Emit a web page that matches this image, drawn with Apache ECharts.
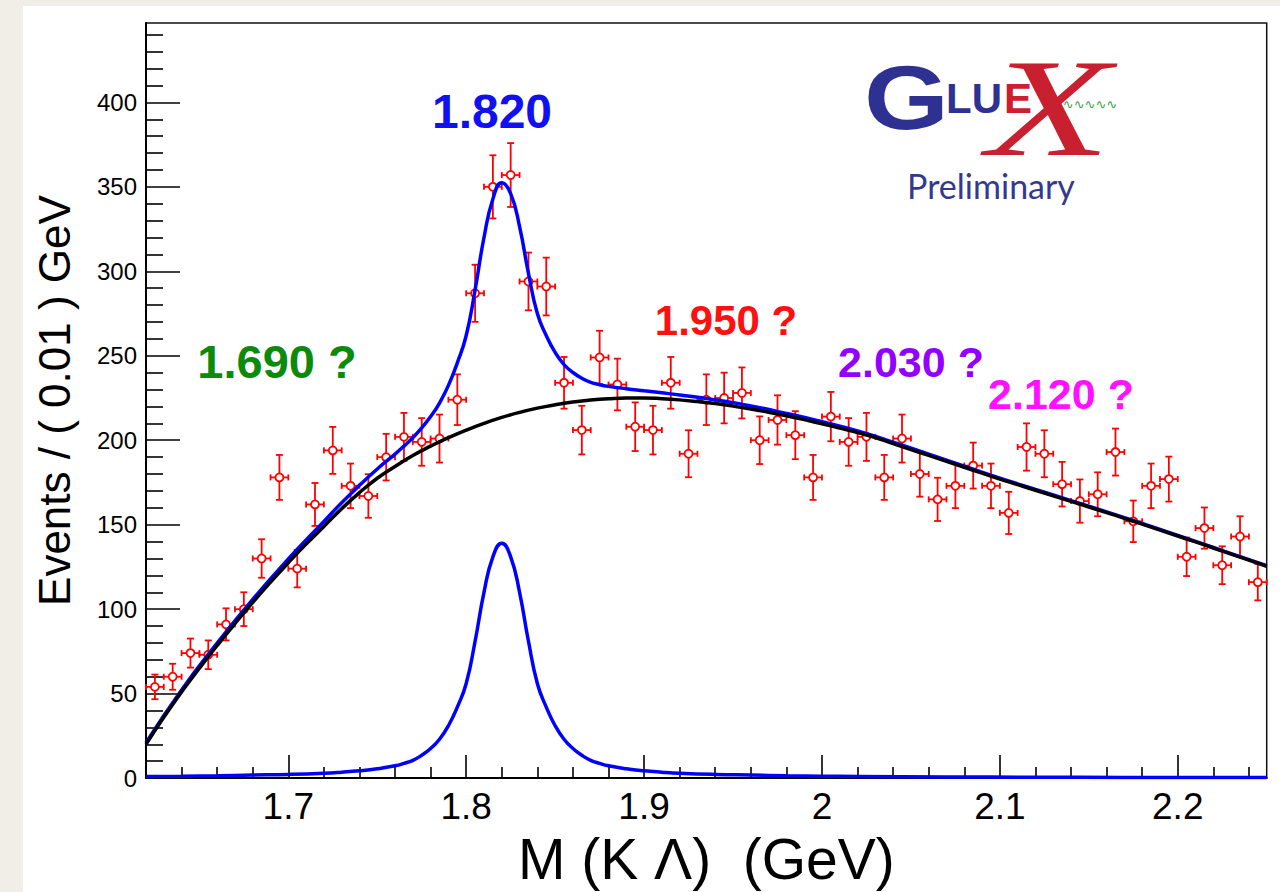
<!DOCTYPE html>
<html><head><meta charset="utf-8">
<script src="https://cdn.jsdelivr.net/npm/echarts@6/dist/echarts.min.js"></script>
<style>
html,body{margin:0;padding:0;background:#f1eee8;width:1280px;height:892px;overflow:hidden;}
#bgw{position:absolute;left:23px;top:6px;width:1257px;height:886px;background:#fff;}
#chart{position:absolute;left:0;top:0;width:1280px;height:892px;}
</style></head><body><div id="bgw"></div><div id="chart"></div>
<script>
// ---- data ----
const binCenters = [1.625,1.635,1.645,1.655,1.665,1.675,1.685,1.695,1.705,1.715,1.725,1.735,1.745,1.755,1.765,1.775,1.785,1.795,1.805,1.815,1.825,1.835,1.845,1.855,1.865,1.875,1.885,1.895,1.905,1.915,1.925,1.935,1.945,1.955,1.965,1.975,1.985,1.995,2.005,2.015,2.025,2.035,2.045,2.055,2.065,2.075,2.085,2.095,2.105,2.115,2.125,2.135,2.145,2.155,2.165,2.175,2.185,2.195,2.205,2.215,2.225,2.235,2.245];
const counts = [54,60,74,73,91,100,130,178,124,162,194,173,167,190,202,199,201,224,287,350,357,294,291,234,206,249,233,208,206,234,192,224,225,228,200,212,203,178,214,199,202,178,201,180,165,173,185,173,157,196,192,174,164,168,193,152,173,177,131,148,126,143,116];
const countErrors = [7.3,7.7,8.6,8.5,9.5,10,11.4,13.3,11.1,12.7,13.9,13.2,12.9,13.8,14.2,14.1,14.2,15,16.9,18.7,18.9,17.1,17.1,15.3,14.4,15.8,15.3,14.4,14.4,15.3,13.9,15,15,15.1,14.1,14.6,14.2,13.3,14.6,14.1,14.2,13.3,14.2,13.4,12.8,13.2,13.6,13.2,12.5,14,13.9,13.2,12.8,13,13.9,12.3,13.2,13.3,11.4,12.2,11.2,12,10.8];
const binHalfWidth = 0.005;

const bgX = [1.62,1.63,1.64,1.65,1.66,1.67,1.68,1.69,1.70,1.71,1.72,1.73,1.74,1.75,1.76,1.77,1.78,1.79,1.80,1.81,1.82,1.83,1.84,1.85,1.86,1.87,1.88,1.89,1.90,1.91,1.92,1.93,1.94,1.95,1.96,1.97,1.98,1.99,2.00,2.01,2.02,2.03,2.04,2.05,2.06,2.07,2.08,2.09,2.10,2.11,2.12,2.13,2.14,2.15,2.16,2.17,2.18,2.19,2.20,2.21,2.22,2.23,2.24,2.25];
const bgY = [20,36,51,65,78.5,91.5,104,116,127.5,138.5,149,159.5,169,177.5,184.5,191,196.5,201.5,206,210,213.5,216.5,219,221,222.6,223.8,224.6,225,225,224.6,223.9,222.9,221.7,220.2,218.5,216.6,214.5,212.2,209.8,207.2,204.5,201.6,198,194.5,191,187.5,184,180.5,177,173.7,170.4,167.1,163.8,160.5,157.2,153.8,150.3,146.8,143.3,139.8,136.2,132.6,129,125.4];

const peakX = [1.62,1.64,1.66,1.68,1.70,1.72,1.73,1.74,1.75,1.76,1.765,1.77,1.775,1.78,1.785,1.79,1.795,1.80,1.805,1.81,1.815,1.82,1.825,1.83,1.835,1.84,1.845,1.85,1.855,1.86,1.865,1.87,1.875,1.88,1.89,1.90,1.91,1.92,1.94,1.96,1.98,2.00,2.02,2.07,2.12,2.17,2.25];
const peakY = [1.0,1.15,1.4,1.8,2.2,2.9,3.5,4.3,5.5,7.3,8.7,10.5,13.5,17.5,23,31,42,56,81,110,131,139,131,110,81,56,42,31,23,17.5,13.5,10.5,8.7,7.3,5.5,4.3,3.5,2.9,2.2,1.8,1.4,1.15,1.0,0.7,0.5,0.4,0.3];

const totalX = [1.62,1.64,1.66,1.68,1.70,1.72,1.73,1.74,1.75,1.76,1.765,1.77,1.775,1.78,1.785,1.79,1.795,1.80,1.805,1.81,1.815,1.82,1.825,1.83,1.835,1.84,1.845,1.85,1.855,1.86,1.865,1.87,1.875,1.88,1.89,1.90,1.91,1.92,1.94,1.96,1.98,2.00,2.02,2.04,2.06,2.08,2.10,2.12,2.14,2.16,2.18,2.20,2.22,2.24,2.25];
const totalY = [21,52.2,79.9,105.8,129.7,151.9,163,173.3,183,191.8,196.5,201.5,207.3,214,222,232.5,245.8,262,289,320,342.8,352.5,346,326.5,298.8,275,262,252,244.8,240.1,236.7,234.3,232.9,231.9,230.5,229.3,228.1,226.8,223.9,220.3,215.9,211,205.5,198.9,191.8,184.7,177.6,170.9,164.3,157.6,150.7,143.7,136.5,129.3,125.7];

const xMajorTicks = [1.7,1.8,1.9,2.0,2.1,2.2];
const xTickLabels = ['1.7','1.8','1.9','2','2.1','2.2'];
const xMinorTicks = [1.62,1.64,1.66,1.68,1.72,1.74,1.76,1.78,1.82,1.84,1.86,1.88,1.92,1.94,1.96,1.98,2.02,2.04,2.06,2.08,2.12,2.14,2.16,2.18,2.22,2.24];
const yMajorTicks = [0,50,100,150,200,250,300,350,400];
const yMinorTicks = [10,20,30,40,60,70,80,90,110,120,130,140,160,170,180,190,210,220,230,240,260,270,280,290,310,320,330,340,360,370,380,390,410,420,430,440];

const annotations = [
  {text:'1.820', x:492, y:111, size:48, color:'#1010f0'},
  {text:'1.690 ?', x:277, y:361, size:47, color:'#0b8a0b'},
  {text:'1.950 ?', x:726, y:320, size:42, color:'#ff1010'},
  {text:'2.030 ?', x:911, y:362, size:43, color:'#9400ff'},
  {text:'2.120 ?', x:1061, y:394, size:43, color:'#ff10ff'}
];

// ---- chart ----
const FONT = "'Liberation Sans', Arial, Helvetica, sans-serif";
const chart = echarts.init(document.getElementById('chart'), null, {renderer:'svg', width:1280, height:892});

const pointData = binCenters.map((x,i)=>[x, counts[i], countErrors[i]]);
const pair = (xs, ys) => xs.map((x,i)=>[x, ys[i]]);

function renderPoint(params, api){
  const x = api.value(0), y = api.value(1), e = api.value(2);
  const c = api.coord([x,y]);
  const t = api.coord([x,y+e]);
  const b = api.coord([x,y-e]);
  const l = api.coord([x-binHalfWidth,y]);
  const r = api.coord([x+binHalfWidth,y]);
  const rad = 4, capV = 3.5, capH = 3;
  const st = {stroke:'#ff0000', lineWidth:1.8, fill:null};
  const line = (x1,y1,x2,y2)=>({type:'line', shape:{x1,y1,x2,y2}, style:st});
  return {type:'group', children:[
    line(c[0], t[1], c[0], c[1]-rad),
    line(c[0], c[1]+rad, c[0], b[1]),
    line(c[0]-capV, t[1], c[0]+capV, t[1]),
    line(c[0]-capV, b[1], c[0]+capV, b[1]),
    line(l[0], c[1], c[0]-rad, c[1]),
    line(c[0]+rad, c[1], r[0], c[1]),
    line(l[0], c[1]-capH, l[0], c[1]+capH),
    line(r[0], c[1]-capH, r[0], c[1]+capH),
    {type:'circle', shape:{cx:c[0], cy:c[1], r:rad}, style:{stroke:'#ff0000', lineWidth:1.8, fill:'#ffffff'}}
  ]};
}

const graphics = annotations.map(a=>({
  type:'text', x:a.x, y:a.y, z:50,
  style:{text:a.text, fill:a.color, font:`bold ${a.size}px ${FONT}`, textAlign:'center', textVerticalAlign:'middle'}
}));
// GlueX logo (text based)
graphics.push(
  {type:'text', x:864, y:97, scaleX:1.3, scaleY:1.08, originX:0, originY:0, z:40,
   style:{text:'G', x:0, y:0, fill:'#2e3192', font:`bold 84px ${FONT}`, textAlign:'left', textVerticalAlign:'middle'}},
  {type:'text', x:946, y:98, z:40,
   style:{text:'LU', x:0, y:0, fill:'#2e3192', font:`bold 42px ${FONT}`, textAlign:'left', textVerticalAlign:'middle'}},
  {type:'text', x:1049, y:108, scaleX:1.45, originX:0, originY:0, z:41,
   style:{text:'X', x:0, y:0, fill:'#c8202f', font:`italic 140px 'Liberation Serif', 'DejaVu Serif', serif`, textAlign:'center', textVerticalAlign:'middle'}},
  {type:'text', x:1004, y:98, z:43,
   style:{text:'E', x:0, y:0, fill:'#cc2030', font:`bold 42px ${FONT}`, textAlign:'left', textVerticalAlign:'middle'}},
  {type:'text', x:1090, y:104, z:42,
   style:{text:'∿∿∿∿∿', x:0, y:0, fill:'#3aa040', font:`13px 'DejaVu Sans', sans-serif`, textAlign:'center', textVerticalAlign:'middle'}},
  {type:'text', x:991, y:185, z:40,
   style:{text:'Preliminary', x:0, y:0, fill:'#34398f', font:`34px Lato, 'Noto Sans', sans-serif`, textAlign:'center', textVerticalAlign:'middle'}}
);

const option = {
  animation:false,
  backgroundColor:'transparent',
  grid:{left:146, top:23, right:13.3, bottom:106.3, show:true, borderColor:'#111', borderWidth:1.5, backgroundColor:'transparent'},
  xAxis:[
    {type:'value', min:1.62, max:2.25, position:'bottom',
     axisLine:{show:true, onZero:false, lineStyle:{color:'#000', width:2}},
     axisTick:{show:true, inside:true, length:23, customValues:xMajorTicks, lineStyle:{color:'#000', width:1.6}},
     axisLabel:{show:true, customValues:xMajorTicks, formatter:(v)=>xTickLabels[xMajorTicks.findIndex(t=>Math.abs(t-v)<1e-6)] || '', color:'#000', fontSize:37, fontFamily:FONT, margin:10},
     splitLine:{show:false},
     name:'M (K Λ)  (GeV)', nameLocation:'middle', nameGap:44,
     nameTextStyle:{color:'#000', fontSize:57, fontFamily:FONT, verticalAlign:'top'}},
    {type:'value', min:1.62, max:2.25, position:'bottom',
     axisLine:{show:false},
     axisTick:{show:true, inside:true, length:11, customValues:xMinorTicks, lineStyle:{color:'#000', width:1.6}},
     axisLabel:{show:false}, splitLine:{show:false}}
  ],
  yAxis:[
    {type:'value', min:0, max:447, position:'left',
     axisLine:{show:true, onZero:false, lineStyle:{color:'#000', width:2}},
     axisTick:{show:true, inside:true, length:34, customValues:yMajorTicks, lineStyle:{color:'#000', width:1.6}},
     axisLabel:{show:true, customValues:yMajorTicks, color:'#000', fontSize:24, fontFamily:FONT, margin:9},
     splitLine:{show:false},
     name:'Events / ( 0.01 ) GeV', nameLocation:'middle', nameGap:70,
     nameTextStyle:{color:'#000', fontSize:44, fontFamily:FONT}},
    {type:'value', min:0, max:447, position:'left',
     axisLine:{show:false},
     axisTick:{show:true, inside:true, length:17, customValues:yMinorTicks, lineStyle:{color:'#000', width:1.6}},
     axisLabel:{show:false}, splitLine:{show:false}}
  ],
  series:[
    {type:'custom', name:'data', xAxisIndex:0, yAxisIndex:0, data:pointData, renderItem:renderPoint, z:3, encode:{x:0, y:1}},
    {type:'line', name:'signal', data:pair(peakX, peakY), xAxisIndex:0, yAxisIndex:0, showSymbol:false, smooth:0.5, lineStyle:{color:'#0000ff', width:3.5}, z:4},
    {type:'line', name:'total', data:pair(totalX, totalY), xAxisIndex:0, yAxisIndex:0, showSymbol:false, smooth:0.5, lineStyle:{color:'#0000ff', width:3.5}, z:5},
    {type:'line', name:'background', data:pair(bgX, bgY), xAxisIndex:0, yAxisIndex:0, showSymbol:false, smooth:0.5, lineStyle:{color:'#000000', width:3.5}, z:6}
  ],
  graphic:graphics
};
chart.setOption(option);
</script></body></html>
